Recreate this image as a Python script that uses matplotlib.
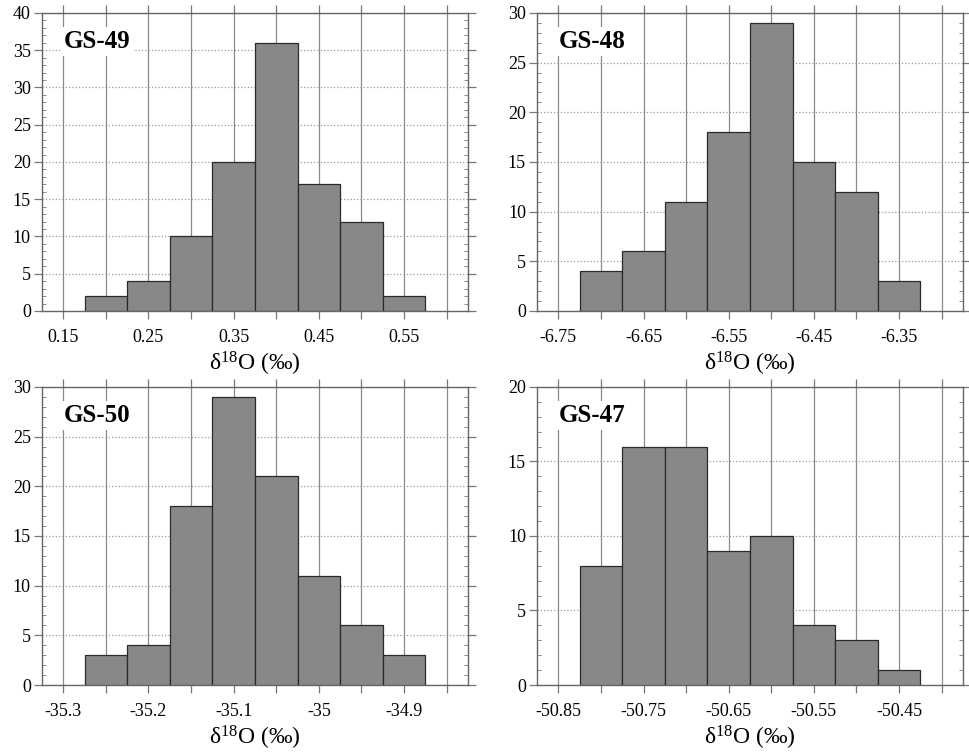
import numpy as np
import matplotlib.pyplot as plt
from matplotlib.ticker import MultipleLocator

plt.rcParams['font.family'] = ['Liberation Serif', 'DejaVu Serif']

# Histogram data (bin width 0.05 per mil)
bin_width = 0.05

gs49_first_edge = 0.175
gs49_counts = [2, 4, 10, 20, 36, 17, 12, 2]

gs48_first_edge = -6.725
gs48_counts = [4, 6, 11, 18, 29, 15, 12, 3]

gs50_first_edge = -35.275
gs50_counts = [3, 4, 18, 29, 21, 11, 6, 3]

gs47_first_edge = -50.825
gs47_counts = [8, 16, 16, 9, 10, 4, 3, 1]

panels = [
    ('GS-49', gs49_first_edge, gs49_counts, (0.125, 0.625), 40, [0.15, 0.25, 0.35, 0.45, 0.55]),
    ('GS-48', gs48_first_edge, gs48_counts, (-6.775, -6.275), 30, [-6.75, -6.65, -6.55, -6.45, -6.35]),
    ('GS-50', gs50_first_edge, gs50_counts, (-35.325, -34.825), 30, [-35.3, -35.2, -35.1, -35.0, -34.9]),
    ('GS-47', gs47_first_edge, gs47_counts, (-50.875, -50.375), 20, [-50.85, -50.75, -50.65, -50.55, -50.45]),
]

fig = plt.figure(figsize=(9.69, 7.53), dpi=100)
positions = [
    [0.0433, 0.587, 0.4396, 0.3958],
    [0.5542, 0.587, 0.4396, 0.3958],
    [0.0433, 0.0903, 0.4396, 0.3958],
    [0.5542, 0.0903, 0.4396, 0.3958],
]

for pos, (name, first, counts, xlim, ymax, labelled) in zip(positions, panels):
    ax = fig.add_axes(pos)
    edges = first + bin_width * np.arange(len(counts) + 1)
    ax.set_axisbelow(True)
    ax.bar(edges[:-1], counts, width=bin_width, align='edge',
           color='#88888b', edgecolor='#2a2a2a', linewidth=0.9, zorder=3)

    ax.set_xlim(*xlim)
    ax.set_ylim(0, ymax)

    # x ticks every 0.05, labels only at every 0.1
    xt = np.arange(labelled[0] - 0.05, xlim[1], 0.05)
    xt = xt[(xt > xlim[0]) & (xt < xlim[1])]
    ax.set_xticks(xt)
    lab_set = [round(v, 3) for v in labelled]
    ax.set_xticklabels([('%g' % round(v, 3)) if round(v, 3) in lab_set else '' for v in xt])
    ax.tick_params(axis='x', direction='out', length=6, width=0.9, color='#777777',
                   top=True, labelsize=13, pad=7)
    for v in xt:
        ax.axvline(v, color='#8a8a8a', linewidth=0.9, zorder=1)

    ax.yaxis.set_major_locator(MultipleLocator(5))
    ax.yaxis.set_minor_locator(MultipleLocator(1))
    ax.tick_params(axis='y', which='major', direction='out', length=6, width=0.9,
                   color='#777777', right=True, labelsize=13, pad=2)
    ax.tick_params(axis='y', which='minor', direction='in', length=3, width=0.6,
                   color='#777777', right=True)
    ax.grid(axis='y', which='major', linestyle=':', color='#9a9a9a', linewidth=0.9, zorder=1)

    for s in ax.spines.values():
        s.set_color('#666666')
        s.set_linewidth(1.0)

    ax.set_xlabel(r'$\mathregular{\delta^{18}O}$ (‰)', fontsize=17, labelpad=3)
    ax.text(0.05, 0.905, name, transform=ax.transAxes, fontsize=18, fontweight='bold',
            va='center', ha='left', zorder=5,
            bbox=dict(facecolor='white', edgecolor='none', pad=2))

fig.savefig('out.png', dpi=100)
